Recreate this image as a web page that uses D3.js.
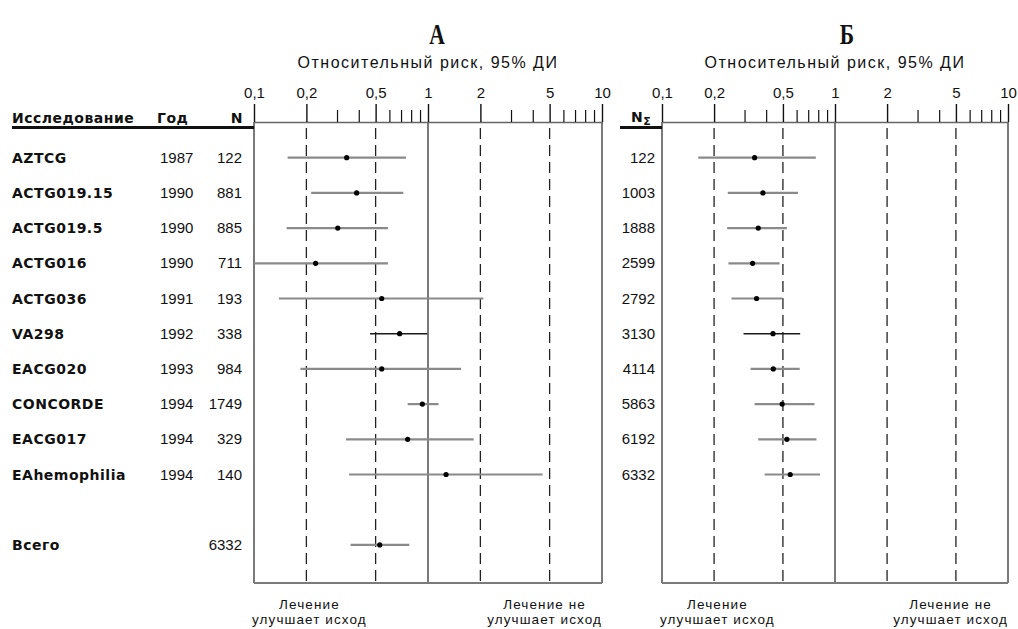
<!DOCTYPE html>
<html>
<head>
<meta charset="utf-8">
<script src="https://cdn.jsdelivr.net/npm/d3@7"></script>
<style>
  html, body { margin: 0; padding: 0; background: #fff; }
  svg { display: block; }
  .lbl { font-family: "Liberation Sans", Arial, sans-serif; fill: #111; }
  .bold { font-family: "DejaVu Sans", "Liberation Sans", sans-serif; font-weight: bold; letter-spacing: 0.5px; }
</style>
</head>
<body>
<svg id="chart" width="1018" height="629"></svg>
<script>
// Studies of early zidovudine therapy: relative risk with 95% CI
const studies = ["AZTCG", "ACTG019.15", "ACTG019.5", "ACTG016", "ACTG036",
                 "VA298", "EACG020", "CONCORDE", "EACG017", "EAhemophilia"];
const years = [1987, 1990, 1990, 1990, 1991, 1992, 1993, 1994, 1994, 1994];
const patients = [122, 881, 885, 711, 193, 338, 984, 1749, 329, 140];

// Panel A: individual trials
const rrA = [0.341, 0.389, 0.303, 0.226, 0.542, 0.687, 0.542, 0.928, 0.764, 1.27];
const loA = [0.156, 0.213, 0.154, 0.100, 0.139, 0.464, 0.185, 0.764, 0.338, 0.352];
const hiA = [0.748, 0.721, 0.589, 0.589, 2.08, 0.99, 1.55, 1.15, 1.83, 4.56];

// Pooled estimate
const totalLabel = "Всего";
const totalN = 6332;
const totalRR = 0.528, totalLo = 0.359, totalHi = 0.781;

// Panel B: cumulative meta-analysis
const cumN = [122, 1003, 1888, 2599, 2792, 3130, 4114, 5863, 6192, 6332];
const rrB = [0.343, 0.383, 0.360, 0.334, 0.352, 0.438, 0.440, 0.495, 0.527, 0.551];
const loB = [0.162, 0.240, 0.238, 0.242, 0.252, 0.296, 0.325, 0.343, 0.360, 0.392];
const hiB = [0.775, 0.612, 0.527, 0.478, 0.497, 0.629, 0.625, 0.761, 0.781, 0.820];

const majorTicks = [0.1, 0.2, 0.5, 1, 2, 5, 10];
const minorTicks = [0.3, 0.4, 0.6, 0.7, 0.8, 0.9, 3, 4, 6, 7, 8, 9];
const dashedRefs = [0.2, 0.5, 2, 5];
const axisTitle = "Относительный риск, 95% ДИ";
const favoursLeft = ["Лечение", "улучшает исход"];
const favoursRight = ["Лечение не", "улучшает исход"];

const svg = d3.select("#chart");
const axisY = 122, frameBottom = 583;
const fmt = v => String(v).replace(".", ",");

// Row positions: 10 trials, a blank slot, then the total
const y = d3.scalePoint().domain(d3.range(12)).range([157.7, 544.9]);

function panel(x0, x1, title, letter, letterX, rows) {
  const x = d3.scaleLog().domain([0.1, 10]).range([x0, x1]);
  const g = svg.append("g");

  g.append("text").attr("class", "lbl")
    .attr("x", letterX).attr("y", 44)
    .attr("text-anchor", "middle")
    .attr("transform", `translate(${letterX},0) scale(0.72,1) translate(${-letterX},0)`)
    .style("font-family", '"Liberation Serif", "Times New Roman", serif')
    .style("font-weight", "bold").style("font-size", "30px")
    .text(letter);

  g.append("text").attr("class", "lbl")
    .attr("x", (x0 + x1) / 2).attr("y", 68)
    .attr("text-anchor", "middle")
    .style("font-size", "16px").style("letter-spacing", "1.5px")
    .text(title);

  // vertical reference lines
  g.selectAll("line.dash").data(dashedRefs).join("line")
    .attr("x1", d => x(d)).attr("x2", d => x(d))
    .attr("y1", axisY + 6).attr("y2", frameBottom)
    .attr("stroke", "#222").attr("stroke-width", 1.3)
    .attr("stroke-dasharray", "11,6");

  g.selectAll("line.solid").data([0.1, 1, 10]).join("line")
    .attr("x1", d => x(d)).attr("x2", d => x(d))
    .attr("y1", axisY).attr("y2", frameBottom)
    .attr("stroke", "#7a7a7a").attr("stroke-width", 2);

  g.append("line")
    .attr("x1", x0).attr("x2", x1)
    .attr("y1", frameBottom).attr("y2", frameBottom)
    .attr("stroke", "#7a7a7a").attr("stroke-width", 2);

  // log axis: labelled major ticks and short minor ticks
  const major = g.append("g").attr("transform", `translate(0,${axisY})`)
    .call(d3.axisTop(x).tickValues(majorTicks).tickFormat(fmt).tickSize(18).tickSizeOuter(0).tickPadding(6));
  major.select(".domain").attr("stroke", "#666").attr("stroke-width", 1.5);
  major.selectAll(".tick line").attr("stroke", "#111").attr("stroke-width", 1.4);
  major.selectAll(".tick text").attr("class", "lbl")
    .style("font-size", "15px").attr("fill", "#111");

  const minor = g.append("g").attr("transform", `translate(0,${axisY})`)
    .call(d3.axisTop(x).tickValues(minorTicks).tickFormat("").tickSize(12).tickSizeOuter(0));
  minor.select(".domain").remove();
  minor.selectAll(".tick line").attr("stroke", "#111").attr("stroke-width", 1.2);

  // confidence intervals and point estimates
  const clip = "clip" + letter.charCodeAt(0);
  g.append("clipPath").attr("id", clip).append("rect")
    .attr("x", x0).attr("y", axisY).attr("width", x1 - x0).attr("height", frameBottom - axisY);
  const marks = g.append("g").attr("clip-path", `url(#${clip})`);
  marks.selectAll("line.ci").data(rows).join("line")
    .attr("x1", d => x(d.lo)).attr("x2", d => x(d.hi))
    .attr("y1", d => y(d.i)).attr("y2", d => y(d.i))
    .attr("stroke", d => d.i === 5 ? "#1a1a1a" : "#8a8a8a")
    .attr("stroke-width", d => d.i === 5 ? 1.4 : 2.2);
  marks.selectAll("circle").data(rows).join("circle")
    .attr("cx", d => x(d.rr)).attr("cy", d => y(d.i)).attr("r", 2.6)
    .attr("fill", "#000");

  // "favours" captions under the frame
  const cap = (lines, edge, anchorRight) => {
    const t = g.append("g");
    const texts = t.selectAll("text").data(lines).join("text")
      .attr("class", "lbl").attr("text-anchor", "middle")
      .attr("y", (d, k) => 609 + k * 15)
      .style("font-size", "13.5px").style("letter-spacing", "1.1px")
      .text(d => d);
    const w = d3.max(texts.nodes(), n => n.getComputedTextLength());
    const cx = anchorRight ? edge - w / 2 : edge + w / 2;
    texts.attr("x", cx);
  };
  cap(favoursLeft, x0 - 2, false);
  cap(favoursRight, x1, true);

  return x;
}

const rowsA = studies.map((s, i) => ({ i, rr: rrA[i], lo: loA[i], hi: hiA[i] }))
  .concat([{ i: 11, rr: totalRR, lo: totalLo, hi: totalHi }]);
const rowsB = studies.map((s, i) => ({ i, rr: rrB[i], lo: loB[i], hi: hiB[i] }));

panel(254, 602, axisTitle, "А", 437, rowsA);
panel(662, 1008, axisTitle, "Б", 847, rowsB);

// Table on the left of panel A
const tbl = svg.append("g");
const header = [
  { t: "Исследование", x: 12, a: "start" },
  { t: "Год", x: 157, a: "start" },
  { t: "N", x: 243, a: "end" }
];
tbl.selectAll("text.h").data(header).join("text")
  .attr("class", "lbl bold").attr("x", d => d.x).attr("y", 123)
  .attr("text-anchor", d => d.a).style("font-size", "14px")
  .text(d => d.t);
tbl.append("line").attr("x1", 12).attr("x2", 254).attr("y1", 127.5).attr("y2", 127.5)
  .attr("stroke", "#111").attr("stroke-width", 3);

const rowText = studies.map((s, i) => ({ s, yr: years[i], n: patients[i], i }));
tbl.selectAll("text.name").data(rowText).join("text")
  .attr("class", "lbl bold").attr("x", 12).attr("y", d => y(d.i) + 5)
  .style("font-size", "14px").text(d => d.s);
tbl.selectAll("text.yr").data(rowText).join("text")
  .attr("class", "lbl").attr("x", 160).attr("y", d => y(d.i) + 5)
  .style("font-size", "15px").text(d => d.yr);
tbl.selectAll("text.n").data(rowText).join("text")
  .attr("class", "lbl").attr("x", 242).attr("y", d => y(d.i) + 5)
  .attr("text-anchor", "end").style("font-size", "15px").text(d => d.n);
tbl.append("text").attr("class", "lbl bold").attr("x", 12).attr("y", y(11) + 5)
  .style("font-size", "14px").text(totalLabel);
tbl.append("text").attr("class", "lbl").attr("x", 242).attr("y", y(11) + 5)
  .attr("text-anchor", "end").style("font-size", "15px").text(totalN);

// Cumulative N column for panel B
const nb = svg.append("g");
const nh = nb.append("text").attr("class", "lbl bold").attr("x", 631).attr("y", 122)
  .style("font-size", "14px");
nh.append("tspan").text("N");
nh.append("tspan").attr("dy", 3).style("font-size", "11px").text("Σ");
nb.append("line").attr("x1", 620).attr("x2", 662).attr("y1", 127.5).attr("y2", 127.5)
  .attr("stroke", "#111").attr("stroke-width", 3);
nb.selectAll("text.cn").data(cumN).join("text")
  .attr("class", "lbl").attr("x", 655).attr("y", (d, i) => y(i) + 5)
  .attr("text-anchor", "end").style("font-size", "15px").text(d => d);
</script>
</body>
</html>
